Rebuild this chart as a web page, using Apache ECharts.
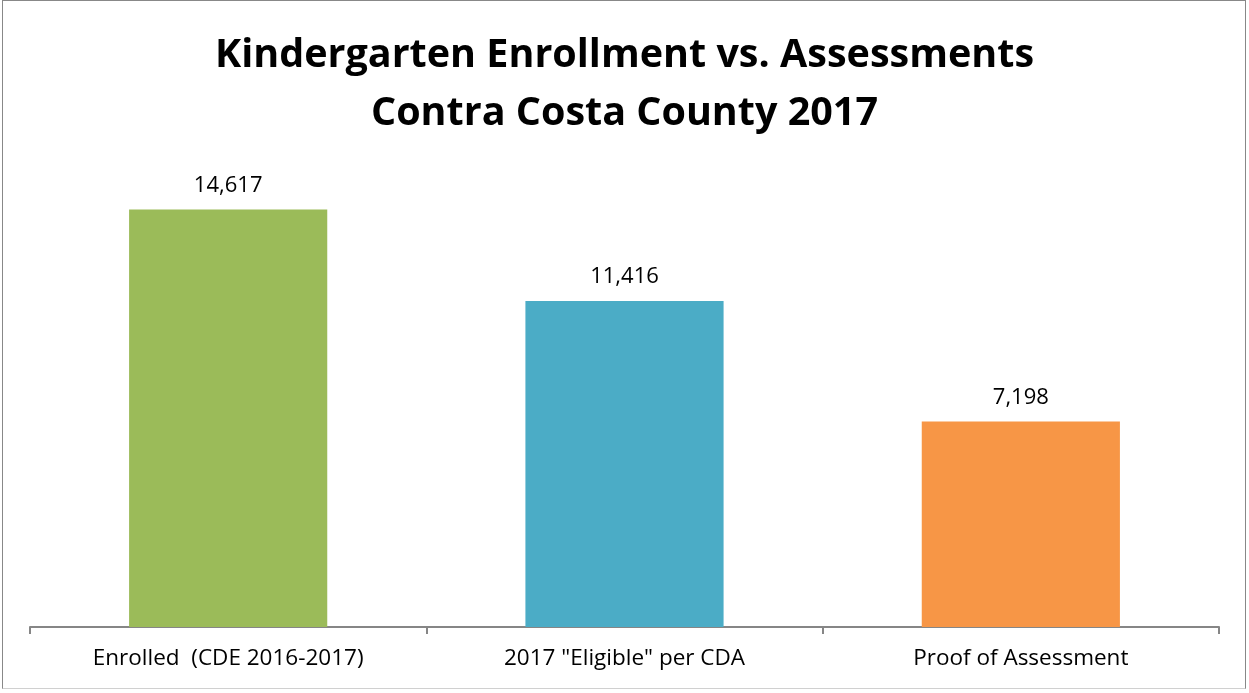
<!DOCTYPE html>
<html>
<head>
<meta charset="utf-8">
<script src="https://cdn.jsdelivr.net/npm/echarts@6/dist/echarts.min.js"></script>
<style>
  html, body { margin: 0; padding: 0; background: #fff; }
  #chart { position: absolute; left: 0; top: 0; width: 1249px; height: 693px; }
  #frame { position: absolute; left: 2px; top: 0; width: 1244px; height: 689px;
           border: 1px solid #888; border-bottom-color: #d0d0d0; box-sizing: border-box; pointer-events: none; }
</style>
</head>
<body>
<div id="chart"></div>
<div id="frame"></div>
<script>
// Kindergarten enrollment vs. assessments, Contra Costa County 2017
const categories = ['Enrolled  (CDE 2016-2017)', '2017 "Eligible" per CDA', 'Proof of Assessment'];
const values = [14617, 11416, 7198];
const barColors = ['#9BBB59', '#4BACC6', '#F79646'];

const font = '"Open Sans", "Noto Sans", sans-serif';
const chart = echarts.init(document.getElementById('chart'), null, { renderer: 'canvas' });

chart.setOption({
  animation: false,
  title: {
    text: 'Kindergarten Enrollment vs. Assessments\nContra Costa County 2017',
    left: 'center',
    top: 22,
    textStyle: { fontFamily: font, fontWeight: 'bold', fontSize: 39.5, color: '#000', lineHeight: 58 }
  },
  grid: { left: 30, right: 30, top: 170, bottom: 66, containLabel: false },
  xAxis: {
    type: 'category',
    data: categories,
    axisLine: { lineStyle: { color: '#868686', width: 2 } },
    axisTick: { show: true, length: 7, lineStyle: { color: '#868686', width: 2 } },
    axisLabel: { fontFamily: font, fontSize: 22.5, color: '#000', margin: 20 }
  },
  yAxis: {
    type: 'value',
    min: 0,
    max: 16000,
    show: false,
    splitLine: { show: false }
  },
  series: [{
    type: 'bar',
    barWidth: '50%',
    data: values.map((v, i) => ({ value: v, itemStyle: { color: barColors[i] } })),
    label: {
      show: true,
      position: 'top',
      distance: 13,
      fontFamily: font,
      fontSize: 22,
      color: '#000',
      formatter: p => p.value.toLocaleString('en-US')
    }
  }]
});
</script>
</body>
</html>
